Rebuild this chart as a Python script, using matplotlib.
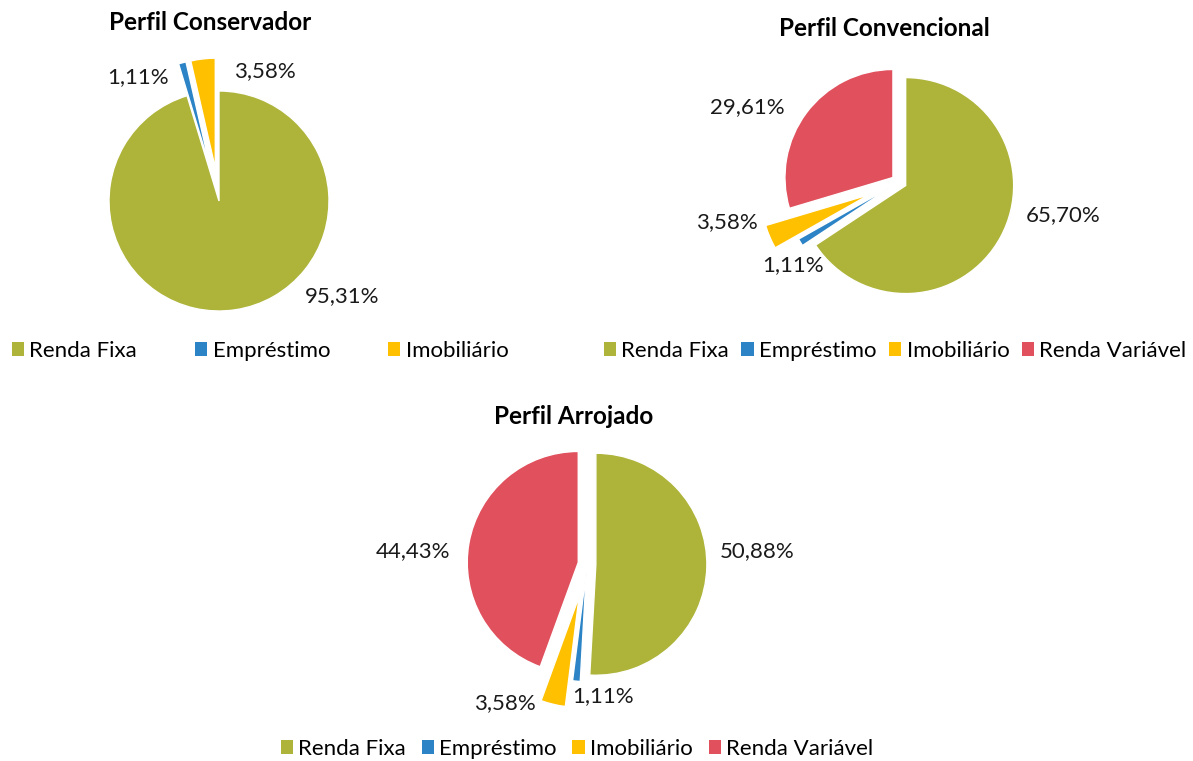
import matplotlib
matplotlib.use("Agg")
import matplotlib.pyplot as plt
from matplotlib.patches import Patch

plt.rcParams['font.family'] = ['Lato', 'DejaVu Sans']

# data
cons_labels = ['Renda Fixa', 'Empréstimo', 'Imobiliário']
cons_values = [95.31, 1.11, 3.58]

conv_labels = ['Renda Fixa', 'Empréstimo', 'Imobiliário', 'Renda Variável']
conv_values = [65.70, 1.11, 3.58, 29.61]

arro_labels = ['Renda Fixa', 'Empréstimo', 'Imobiliário', 'Renda Variável']
arro_values = [50.88, 1.11, 3.58, 44.43]

colors = {'Renda Fixa': '#AEB43A', 'Empréstimo': '#2C84C6',
          'Imobiliário': '#FFC000', 'Renda Variável': '#E0505D'}

W, H = 1193, 761
LIM = 1.7
fig = plt.figure(figsize=(W / 100, H / 100), dpi=100)


def fmt(v):
    return f"{v:.2f}%".replace('.', ',')


def pie_axes(cx, cy, r):
    # square axes centred on pixel (cx, cy), one data unit = r pixels
    size = 2 * LIM * r
    ax = fig.add_axes([(cx - size / 2) / W, 1 - (cy + size / 2) / H, size / W, size / H])
    ax.axis('off')
    return ax


def draw(ax, labels, values, explode, label_pos, title, title_xy, leg_xy, colsp):
    ax.pie(values, colors=[colors[l] for l in labels], explode=explode,
           startangle=90, counterclock=False, radius=1,
           wedgeprops=dict(edgecolor='white', linewidth=1))
    # pie() resets the limits, so fix them afterwards
    ax.set_xlim(-LIM, LIM)
    ax.set_ylim(-LIM, LIM)
    ax.set_aspect('equal')
    for v, (x, y) in zip(values, label_pos):
        ax.text(x, y, fmt(v), ha='center', va='center', fontsize=16, color='#1a1a1a')
    fig.text(title_xy[0] / W, 1 - title_xy[1] / H, title, ha='center', va='center',
             fontsize=17.5, fontweight='bold', color='black')
    handles = [Patch(facecolor=colors[l], edgecolor='none') for l in labels]
    fig.legend(handles, labels, loc='center', ncol=len(labels),
               bbox_to_anchor=(leg_xy[0] / W, 1 - leg_xy[1] / H),
               frameon=False, fontsize=16, handlelength=0.55, handleheight=0.55,
               handletextpad=0.25, columnspacing=colsp, borderpad=0, borderaxespad=0)


ax1 = pie_axes(219, 201, 110)
draw(ax1, cons_labels, cons_values, [0, 0.3, 0.3],
     [(1.12, -0.86), (-0.74, 1.13), (0.42, 1.18)],
     'Perfil Conservador', (210, 22), (260, 351), 2.6)

ax2 = pie_axes(899, 182, 108)
draw(ax2, conv_labels, conv_values, [0.07, 0.07, 0.3, 0.07],
     [(1.52, -0.31), (-0.98, -0.77), (-1.59, -0.37), (-1.40, 0.69)],
     'Perfil Convencional', (884, 29), (895, 351), 0.55)

ax3 = pie_axes(587, 564, 111)
draw(ax3, arro_labels, arro_values, [0.08, 0.06, 0.3, 0.08],
     [(1.53, 0.12), (0.14, -1.19), (-0.74, -1.25), (-1.57, 0.12)],
     'Perfil Arrojado', (574, 417), (577, 749), 0.7)

fig.savefig('out.png', dpi=100, facecolor='white')
